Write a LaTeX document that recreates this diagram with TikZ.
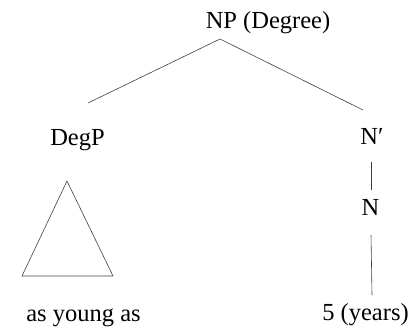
\documentclass[tikz,border=0pt]{standalone}
\usepackage{fontspec}
\setmainfont{Liberation Serif}
\usetikzlibrary{positioning, calc}

\begin{document}
\begin{tikzpicture}[x=1pt,y=1pt,font=\fontsize{24.5}{29}\selectfont,
  lbl/.style={inner sep=0pt,anchor=base},
  edge/.style={draw=black!75,line width=0.6pt}]
  \useasboundingbox (0,0) rectangle (411,-330);
  \node[lbl](np) at (268,-28){NP (Degree)};
  \node[lbl](degp) at (77.5,-145){DegP};
  \node[lbl](nbar) at (372,-144){N′};
  \node[lbl](n) at (370.5,-215){N};
  \node[lbl](ayas) at (83.5,-321){as young as};
  \node[lbl](five) at (365.5,-320){5 (years)};
  \coordinate (top) at (220,-39);\coordinate (lfoot) at (88,-103);\coordinate (rfoot) at (363,-110);
  \coordinate (nbar-b) at (371,-162);\coordinate (n-t) at (371,-190);
  \coordinate (n-b) at (371,-235);\coordinate (five-t) at (372,-295);
  \draw[edge](top)--(lfoot);\draw[edge](top)--(rfoot);
  \draw[edge](nbar-b)--(n-t);\draw[edge](n-b)--(five-t);
  % triangle under DegP
  \draw[edge](67,-181)--(22,-276)--(113,-276)--cycle;
\end{tikzpicture}
\end{document}
